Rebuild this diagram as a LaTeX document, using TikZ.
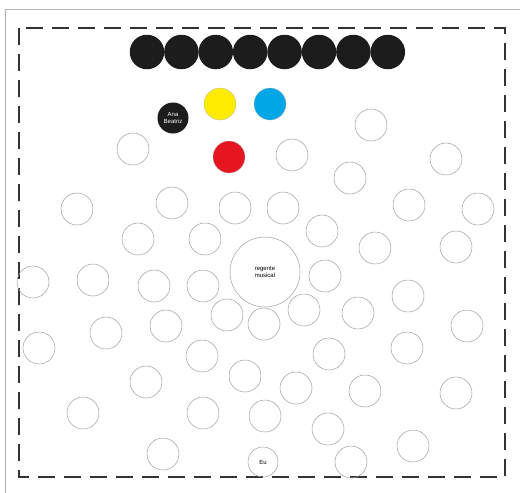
\documentclass[tikz,border=0pt]{standalone}
\usepackage{fontspec}
\setsansfont{Liberation Sans}

\definecolor{inkblack}{HTML}{1C1C1C}
\definecolor{seatyellow}{HTML}{FFEC00}
\definecolor{seatblue}{HTML}{00A6E6}
\definecolor{seatred}{HTML}{E5161F}

\tikzset{
    seat/.style={circle, draw=gray!75, line width=0.5pt, minimum size=32pt, inner sep=0pt},
    choir/.style={circle, fill=inkblack, minimum size=34.5pt, inner sep=0pt},
    colorseat/.style={circle, draw=gray!60, line width=0.3pt, fill=#1, minimum size=32pt, inner sep=0pt},
    seatlabel/.style={font=\sffamily\fontsize{6}{6.5}\selectfont, align=center}
}

\begin{document}
\begin{tikzpicture}[x=1pt, y=-1pt]
    \useasboundingbox (0,0) rectangle (520,493);
    \fill[white] (0,0) rectangle (520,493);
    % outer frame of the page
    \coordinate (frametr) at (520,9);
    \coordinate (frametl) at (5,9);
    \coordinate (framebl) at (5,493);
    \draw[gray!60, line width=0.8pt] (frametr) -- (frametl) -- (framebl);

    % the room
    \draw[black!80, line width=2pt, dash pattern=on 17pt off 9pt]
        (19,28) rectangle (505,477);

    % first row
    \foreach \i in {0,...,7}
        \node[choir] (choir\i) at (147+34.4*\i,52) {};

    % coloured seats
    \node[choir, minimum size=31pt, text=white, seatlabel] (ana) at (173,118) {Ana\\Beatriz};
    \node[colorseat=seatyellow] (yellow) at (220,104) {};
    \node[colorseat=seatblue] (blue) at (270,104) {};
    \node[colorseat=seatred] (red) at (229,157) {};

    % conductor and me
    \node[seat, minimum size=70pt, seatlabel] (regente) at (265,272) {regente\\musical};
    \node[seat, minimum size=30pt, seatlabel] (eu) at (263,462) {Eu};

    % the other seats
    \foreach [count=\n] \x/\y in {
        371/125, 133/149, 292/155, 446/159, 350/178,
        77/209, 172/203, 235/208, 283/208, 409/205, 478/209,
        138/239, 205/239, 322/231, 375/248, 456/247,
        33/282, 93/280, 154/286, 203/286, 325/276, 408/296,
        106/333, 166/326, 227/315, 264/324, 304/310, 358/313, 467/326,
        39/348, 202/356, 329/354, 407/348,
        146/382, 245/376, 296/388, 365/391, 456/393,
        83/413, 203/413, 265/416, 328/429, 413/446,
        163/454, 351/462}
        \node[seat] (seat\n) at (\x,\y) {};
\end{tikzpicture}
\end{document}
